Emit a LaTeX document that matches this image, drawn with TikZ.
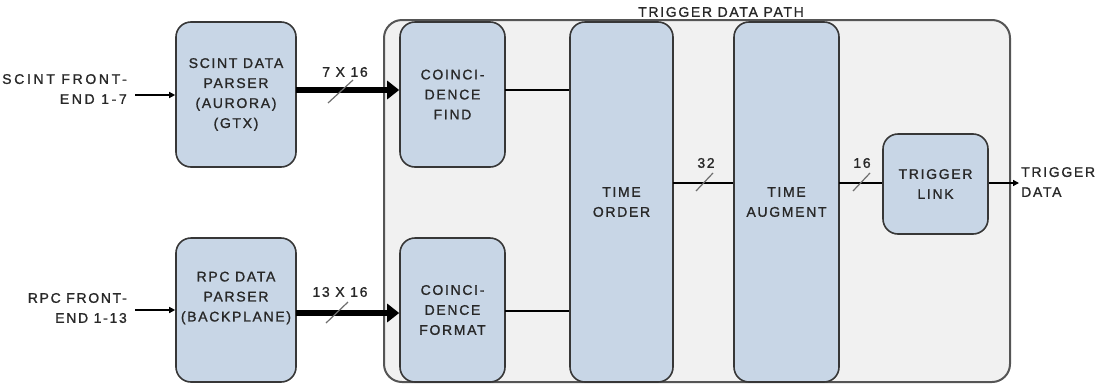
\documentclass[tikz,border=0pt]{standalone}
\usepackage{fontspec}
\setmainfont{Liberation Sans}[LetterSpace=12,FakeBold=1.2]
\usetikzlibrary{arrows.meta}
\definecolor{blockfill}{RGB}{200,214,230}
\definecolor{blockline}{RGB}{55,55,55}
\definecolor{outerfill}{RGB}{241,241,241}
\definecolor{outerline}{RGB}{85,85,85}
\definecolor{slashcol}{RGB}{110,110,110}
\definecolor{textcol}{RGB}{40,40,40}
\begin{document}
\begin{tikzpicture}[x=1pt,y=-1pt,
  block/.style={draw=blockline,fill=blockfill,line width=1.6pt,rounded corners=15pt,
    align=center,inner sep=0pt,text=textcol,font=\fontsize{14}{20}\selectfont},
  lbl/.style={inner sep=0pt,text=textcol,font=\fontsize{14}{20}\selectfont},
  bus/.style={line width=6pt,-{Triangle[length=12pt,width=18pt]}},
  thin/.style={line width=1.3pt},
  sig/.style={line width=1.3pt,-{Triangle[length=6pt,width=6pt]}},
  slash/.style={draw=slashcol,line width=1.2pt}]
\useasboundingbox (0,0) rectangle (1102,389);
% outer group
\node[draw=outerline,fill=outerfill,line width=2pt,rounded corners=18pt,
  minimum width=626pt,minimum height=362pt,inner sep=0pt] (outer) at (697,201) {};
\node[lbl] (title) at (721,12) {TRIGGER DATA PATH};
% blocks
\node[block,minimum width=120pt,minimum height=145pt] (scint) at (236,94.5)
  {SCINT DATA\\PARSER\\(AURORA)\\(GTX)};
\node[block,minimum width=120pt,minimum height=144pt] (rpc) at (236,310) {};
\node[lbl,align=center] (rpctext) at (236,298) {RPC DATA\\PARSER\\(BACKPLANE)};
\node[block,minimum width=105pt,minimum height=145pt] (cfind) at (452.5,94.5)
  {COINCI-\\DENCE\\FIND};
\node[block,minimum width=105pt,minimum height=144pt] (cform) at (452.5,310)
  {COINCI-\\DENCE\\FORMAT};
\node[block,minimum width=103pt,minimum height=360pt] (torder) at (621.5,202)
  {TIME\\ORDER};
\node[block,minimum width=105pt,minimum height=360pt] (taug) at (786.5,202)
  {TIME\\AUGMENT};
\node[block,minimum width=105pt,minimum height=100pt] (tlink) at (935.5,184)
  {TRIGGER\\LINK};
% inputs
\node[lbl,align=right,anchor=east,font=\fontsize{14}{20}\selectfont\addfontfeature{LetterSpace=19}] (scintin) at (127,89) {SCINT FRONT-\\END 1-7};
\node[lbl,align=right,anchor=east] (rpcin) at (127,308) {RPC FRONT-\\END 1-13};
\coordinate (sin) at (135,95);
\coordinate (rin) at (135,310);
\draw[sig] (sin) -- (sin -| scint.west);
\draw[sig] (rin) -- (rin -| rpc.west);
% buses
\coordinate (b1) at (296,90);
\coordinate (b2) at (296,313);
\draw[bus] (b1) -- (b1 -| cfind.west);
\draw[bus] (b2) -- (b2 -| cform.west);
\draw[slash] (328,103) -- (353,80);
\draw[slash] (326,323) -- (348,302);
\node[lbl] (l7) at (345,72) {7 X 16};
\node[lbl] (l13) at (340,292) {13 X 16};
% internal links
\coordinate (c1) at (505,90);
\coordinate (c2) at (505,311);
\draw[thin] (c1) -- (c1 -| torder.west);
\draw[thin] (c2) -- (c2 -| torder.west);
\coordinate (t1) at (673,183);
\draw[thin] (t1) -- (t1 -| taug.west);
\draw[slash] (696,191) -- (713,173);
\node[lbl] (l32) at (706,163) {32};
\coordinate (t2) at (839,183);
\draw[thin] (t2) -- (t2 -| tlink.west);
\draw[slash] (853,191) -- (870,173);
\node[lbl] (l16) at (862,163) {16};
% output
\coordinate (tout) at (1019,183);
\draw[sig] (tlink.east |- tout) -- (tout);
\node[lbl,align=left,anchor=west] (outtext) at (1021,182) {TRIGGER\\DATA};
\end{tikzpicture}
\end{document}
